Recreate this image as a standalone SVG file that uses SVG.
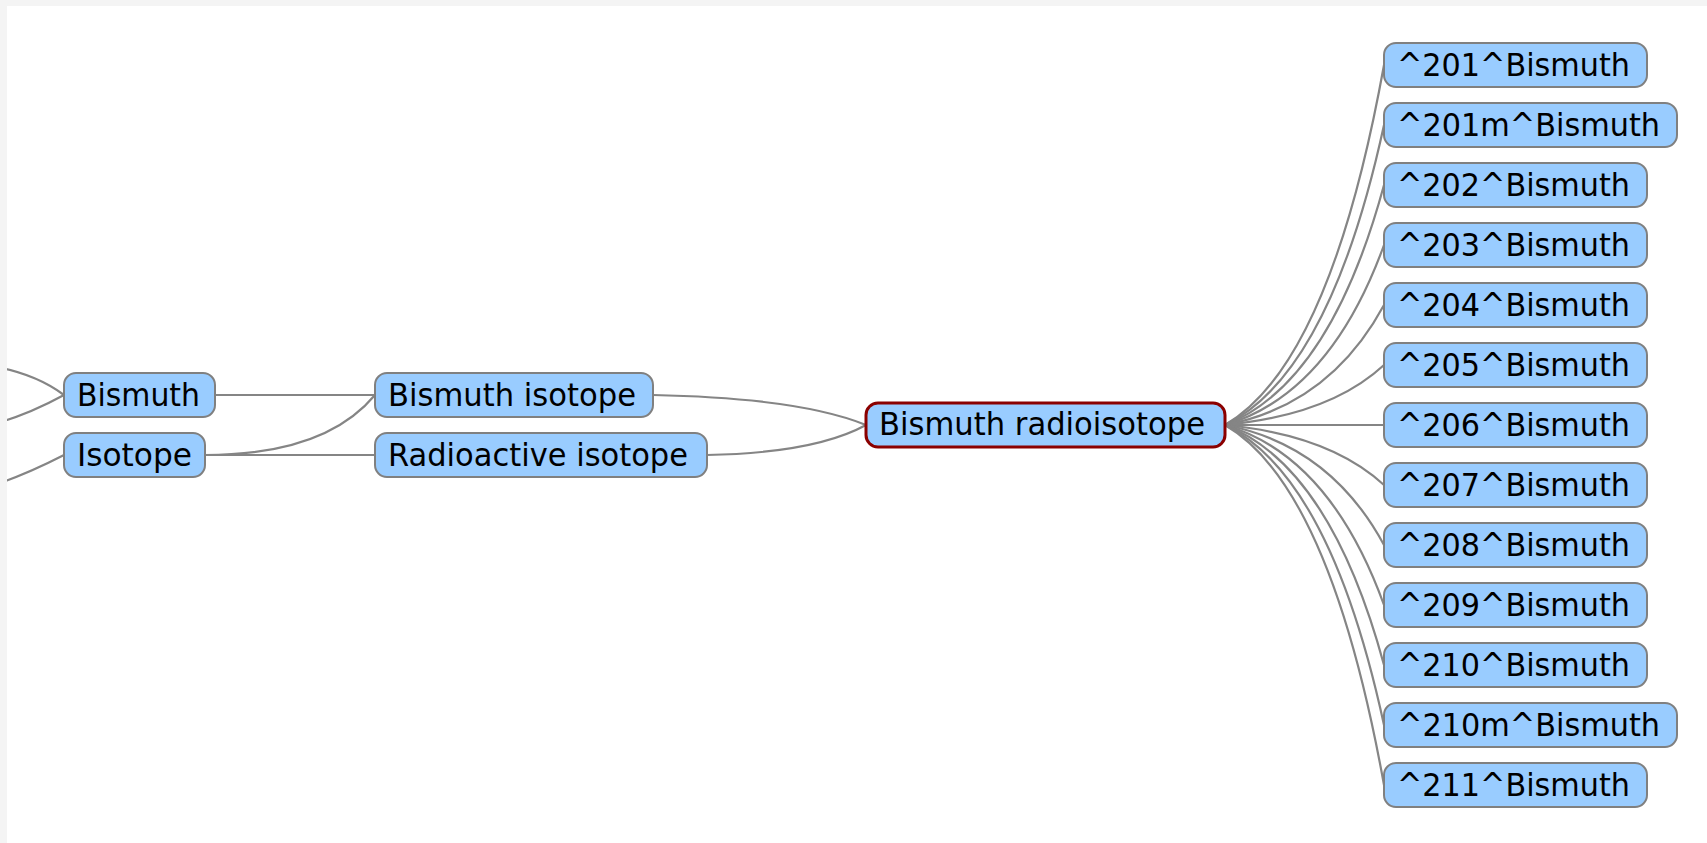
<svg xmlns="http://www.w3.org/2000/svg" width="1707" height="843" viewBox="0 0 1707 843">
<style>
.n rect{fill:#99ccff;stroke:#808080;stroke-width:2}
.n text{font-family:"DejaVu Sans",Verdana,sans-serif;font-size:32px;fill:#000}
#central rect{stroke:#8b0000;stroke-width:3}
#edges path{fill:none;stroke:#858585;stroke-width:2.2}
</style>
<rect x="0" y="0" width="1707" height="843" fill="#ffffff"/>
<g id="edges">
<path d="M-60,362 Q20,362 64,395"/>
<path d="M-60,433 Q0,430 64,395"/>
<path d="M-60,500 Q0,488 64,455"/>
<path d="M215,395 L375,395"/>
<path d="M205,455 Q325,455 375,395"/>
<path d="M205,455 L375,455"/>
<path d="M653,395 Q800,398 866,425"/>
<path d="M707,455 Q815,453 866,425"/>
<path d="M1225,425 Q1330,364 1384,65"/>
<path d="M1225,425 Q1330,374 1384,125"/>
<path d="M1225,425 Q1330,384 1384,185"/>
<path d="M1225,425 Q1330,394 1384,245"/>
<path d="M1225,425 Q1330,405 1384,305"/>
<path d="M1225,425 Q1330,415 1384,365"/>
<path d="M1225,425 L1384,425"/>
<path d="M1225,425 Q1330,435 1384,485"/>
<path d="M1225,425 Q1330,445 1384,545"/>
<path d="M1225,425 Q1330,456 1384,605"/>
<path d="M1225,425 Q1330,466 1384,665"/>
<path d="M1225,425 Q1330,476 1384,725"/>
<path d="M1225,425 Q1330,486 1384,785"/>
</g>
<g id="bismuth" class="n"><rect x="64" y="373" width="151" height="44" rx="12"/><text x="77" y="406" textLength="123" lengthAdjust="spacingAndGlyphs">Bismuth</text></g>
<g id="isotope" class="n"><rect x="64" y="433" width="141" height="44" rx="12"/><text x="77" y="466" textLength="115" lengthAdjust="spacingAndGlyphs">Isotope</text></g>
<g id="bismuth-isotope" class="n"><rect x="375" y="373" width="278" height="44" rx="12"/><text x="388" y="406" textLength="248" lengthAdjust="spacingAndGlyphs">Bismuth isotope</text></g>
<g id="radioactive-isotope" class="n"><rect x="375" y="433" width="332" height="44" rx="12"/><text x="388" y="466" textLength="300" lengthAdjust="spacingAndGlyphs">Radioactive isotope</text></g>
<g id="central" class="n"><rect x="866" y="403" width="359" height="44" rx="12"/><text x="879" y="435" textLength="326" lengthAdjust="spacingAndGlyphs">Bismuth radioisotope</text></g>
<g id="bi201" class="n"><rect x="1384" y="43" width="263" height="44" rx="12"/><text x="1397" y="76" textLength="233" lengthAdjust="spacingAndGlyphs">^201^Bismuth</text></g>
<g id="bi201m" class="n"><rect x="1384" y="103" width="293" height="44" rx="12"/><text x="1397" y="136" textLength="263" lengthAdjust="spacingAndGlyphs">^201m^Bismuth</text></g>
<g id="bi202" class="n"><rect x="1384" y="163" width="263" height="44" rx="12"/><text x="1397" y="196" textLength="233" lengthAdjust="spacingAndGlyphs">^202^Bismuth</text></g>
<g id="bi203" class="n"><rect x="1384" y="223" width="263" height="44" rx="12"/><text x="1397" y="256" textLength="233" lengthAdjust="spacingAndGlyphs">^203^Bismuth</text></g>
<g id="bi204" class="n"><rect x="1384" y="283" width="263" height="44" rx="12"/><text x="1397" y="316" textLength="233" lengthAdjust="spacingAndGlyphs">^204^Bismuth</text></g>
<g id="bi205" class="n"><rect x="1384" y="343" width="263" height="44" rx="12"/><text x="1397" y="376" textLength="233" lengthAdjust="spacingAndGlyphs">^205^Bismuth</text></g>
<g id="bi206" class="n"><rect x="1384" y="403" width="263" height="44" rx="12"/><text x="1397" y="436" textLength="233" lengthAdjust="spacingAndGlyphs">^206^Bismuth</text></g>
<g id="bi207" class="n"><rect x="1384" y="463" width="263" height="44" rx="12"/><text x="1397" y="496" textLength="233" lengthAdjust="spacingAndGlyphs">^207^Bismuth</text></g>
<g id="bi208" class="n"><rect x="1384" y="523" width="263" height="44" rx="12"/><text x="1397" y="556" textLength="233" lengthAdjust="spacingAndGlyphs">^208^Bismuth</text></g>
<g id="bi209" class="n"><rect x="1384" y="583" width="263" height="44" rx="12"/><text x="1397" y="616" textLength="233" lengthAdjust="spacingAndGlyphs">^209^Bismuth</text></g>
<g id="bi210" class="n"><rect x="1384" y="643" width="263" height="44" rx="12"/><text x="1397" y="676" textLength="233" lengthAdjust="spacingAndGlyphs">^210^Bismuth</text></g>
<g id="bi210m" class="n"><rect x="1384" y="703" width="293" height="44" rx="12"/><text x="1397" y="736" textLength="263" lengthAdjust="spacingAndGlyphs">^210m^Bismuth</text></g>
<g id="bi211" class="n"><rect x="1384" y="763" width="263" height="44" rx="12"/><text x="1397" y="796" textLength="233" lengthAdjust="spacingAndGlyphs">^211^Bismuth</text></g>
<g id="frame" fill="#f4f4f4">
<rect x="0" y="0" width="1707" height="6"/>
<rect x="0" y="0" width="7" height="843"/>
</g>
</svg>
